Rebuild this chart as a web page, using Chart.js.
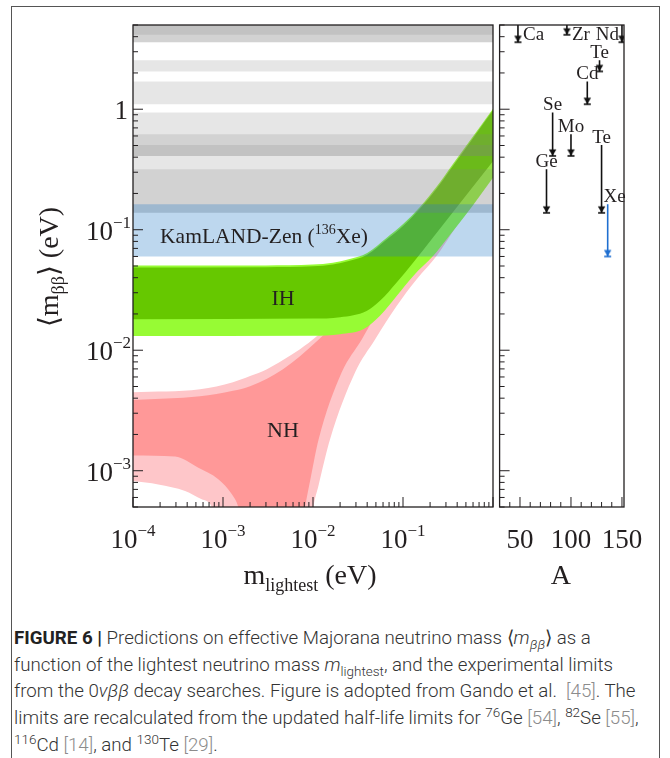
<!DOCTYPE html>
<html>
<head>
<meta charset="utf-8">
<script src="https://cdn.jsdelivr.net/npm/chart.js@4.4.1/dist/chart.umd.min.js"></script>
<style>
  html, body { margin: 0; padding: 0; background: #fff; }
  body { width: 670px; height: 758px; position: relative; overflow: hidden; }
  #frame { position: absolute; left: 11px; top: 6px; width: 649px; height: 800px; border: 1.5px solid #555; box-sizing: border-box; }
  #left { position: absolute; left: 0; top: 0; }
  #right { position: absolute; left: 493px; top: 0; }
  #caption { position: absolute; left: 14px; top: 625px; font-family: Roboto, "Liberation Sans", sans-serif; font-weight: 300;
             font-size: 18.7px; line-height: 26.7px; color: #333; white-space: nowrap; }
  #caption b { font-weight: 700; color: #222; }
  #caption .ref { color: #8c8c8c; }
  #caption sup, #caption sub { font-size: 72%; line-height: 0; }
</style>
</head>
<body>
<div id="frame"></div>
<canvas id="left" width="500" height="600"></canvas>
<canvas id="right" width="170" height="600"></canvas>
<div id="caption">
  <b>FIGURE 6 |</b> Predictions on effective Majorana neutrino mass ⟨<i>m</i><sub><i>ββ</i></sub>⟩ as a<br>
  function of the lightest neutrino mass <i>m</i><sub>lightest</sub>, and the experimental limits<br>
  from the 0<i>νββ</i> decay searches. Figure is adopted from Gando et al. &nbsp;<span class="ref">[45]</span>. The<br>
  limits are recalculated from the updated half-life limits for <sup>76</sup>Ge <span class="ref">[54]</span>, <sup>82</sup>Se <span class="ref">[55]</span>,<br>
  <sup>116</sup>Cd <span class="ref">[14]</span>, and <sup>130</sup>Te <span class="ref">[29]</span>.
</div>
<script>
const SERIF = '"Liberation Serif", "DejaVu Serif", serif';
const INK = '#231f20';

// axis ranges
const M_MIN = 1e-4, M_MAX = 1;        // m_lightest (eV)
const MBB_MIN = 5e-4, MBB_MAX = 5;    // <m_bb> (eV)
const A_MIN = 30, A_MAX = 152;        // mass number

// experimental limits on <m_bb> (eV), one entry per isotope
const isotopes   = ['Ca', 'Ge', 'Se', 'Zr', 'Mo', 'Cd', 'Te', 'Te', 'Xe', 'Nd'];
const massNumber = [48, 76, 82, 96, 100, 116, 128, 130, 136, 150];
const limitHigh  = [10, 0.318, 0.94, 10, 0.62, 1.70, 2.55, 0.506, 0.163, 10];
const limitLow   = [3.6, 0.138, 0.41, 4.15, 0.41, 1.10, 2.06, 0.138, 0.060, 3.6];
const kamlandIsotope = 8;

// inverted hierarchy band
const ihUpperM     = [1e-4, 0.003, 0.01, 0.0166, 0.025, 0.04, 0.066, 0.101, 0.155, 0.237, 0.362, 0.555, 1];
const ihDarkUpper  = [0.0487, 0.0489, 0.0497, 0.0515, 0.055, 0.062, 0.083, 0.108, 0.150, 0.220, 0.342, 0.53, 0.98];
const ihLightUpper = [0.0504, 0.0506, 0.0514, 0.0533, 0.0569, 0.0642, 0.0859, 0.112, 0.155, 0.228, 0.354, 0.549, 1.01];
const ihDarkLowM   = [1e-4, 0.01, 0.02, 0.0394, 0.0555, 0.085, 0.13, 0.208, 0.4, 1];
const ihDarkLower  = [0.0181, 0.0183, 0.0188, 0.0212, 0.0257, 0.0365, 0.0534, 0.0834, 0.155, 0.37];
const ihLightLowM  = [1e-4, 0.01, 0.02, 0.0362, 0.0555, 0.085, 0.13, 0.217, 0.305, 0.6, 1];
const ihLightLower = [0.0131, 0.0132, 0.0136, 0.0149, 0.0193, 0.0282, 0.0414, 0.0607, 0.0834, 0.16, 0.27];

// normal hierarchy band
const nhUpperM     = [1e-4, 5.55e-4, 0.00129, 0.002, 0.00308, 0.00464, 0.00717, 0.0111, 0.02, 0.04, 0.1, 0.3, 1];
const nhDarkUpper  = [0.00387, 0.00415, 0.0046, 0.00503, 0.0058, 0.00696, 0.0089, 0.0119, 0.0185, 0.04, 0.095, 0.26, 0.95];
const nhLightUpper = [0.00448, 0.00474, 0.00542, 0.0061, 0.00696, 0.0083, 0.0102, 0.0131, 0.02, 0.041, 0.097, 0.265, 0.96];
const nhDarkLowM   = [1e-4, 2.93e-4, 5.32e-4, 8.87e-4, 1.25e-3, 1.48e-3, 1.8e-3, 7e-3, 8.15e-3, 9.5e-3, 0.0115, 0.0208, 0.0348, 0.05, 0.085, 0.14, 0.24, 0.5, 1];
const nhDarkLower  = [0.00134, 0.00131, 0.00106, 8.5e-4, 6.4e-4, 5e-4, 2.5e-4, 2.5e-4, 5e-4, 9e-4, 0.0018, 0.00653, 0.0123, 0.0195, 0.031, 0.05, 0.085, 0.18, 0.36];
const nhLightLowM  = [1e-4, 1.91e-4, 3.79e-4, 5.8e-4, 7.5e-4, 9e-4, 9e-3, 0.0101, 0.0115, 0.0155, 0.0293, 0.0489, 0.085, 0.142, 0.237, 0.5, 1];
const nhLightLower = [8.2e-4, 7.7e-4, 6.8e-4, 5.8e-4, 5e-4, 2.5e-4, 2.5e-4, 5e-4, 7.5e-4, 0.00183, 0.00653, 0.0123, 0.0233, 0.0388, 0.0607, 0.14, 0.275];

function curve(ms, vs, order, fill, color) {
    return {
        data: ms.map((m, i) => ({ x: m, y: vs[i] })),
        showLine: true,
        borderWidth: 0,
        borderColor: 'transparent',
        pointRadius: 0,
        cubicInterpolationMode: 'monotone',
        order: order,
        fill: fill,
        backgroundColor: color
    };
}

function drawParts(ctx, parts, x, y, align) {
    let w = 0;
    parts.forEach(p => { ctx.font = p.font; p.w = ctx.measureText(p.text).width; w += p.w; });
    let cx = align === 'center' ? x - w / 2 : (align === 'right' ? x - w : x);
    ctx.textAlign = 'left';
    ctx.textBaseline = 'alphabetic';
    parts.forEach(p => { ctx.font = p.font; ctx.fillText(p.text, cx, y + (p.dy || 0)); cx += p.w; });
}

function powerLabel(e) {
    return [
        { text: '10', font: `27px ${SERIF}` },
        { text: '\u2212' + Math.abs(e), font: `17px ${SERIF}`, dy: -12 }
    ];
}

function drawLogTicksY(ctx, ys, xEdge, dir) {
    for (let e = -4; e <= 0; e++) {
        for (let k = 1; k <= 9; k++) {
            const v = k * Math.pow(10, e);
            if (v < MBB_MIN || v > MBB_MAX) continue;
            const py = ys.getPixelForValue(v);
            const len = k === 1 ? 10 : 5;
            ctx.beginPath();
            ctx.moveTo(xEdge, py);
            ctx.lineTo(xEdge + dir * len, py);
            ctx.stroke();
        }
    }
}

const leftDecor = {
    id: 'leftDecor',
    afterDraw(chart) {
        const ctx = chart.ctx, area = chart.chartArea;
        const xs = chart.scales.x, ys = chart.scales.y;
        ctx.save();
        ctx.strokeStyle = INK;
        ctx.fillStyle = INK;
        ctx.lineWidth = 1.3;
        ctx.strokeRect(area.left, area.top, area.right - area.left, area.bottom - area.top);

        ctx.lineWidth = 1;
        drawLogTicksY(ctx, ys, area.left, 1);
        for (let e = -4; e <= 0; e++) {
            for (let k = 1; k <= 9; k++) {
                const v = k * Math.pow(10, e);
                if (v < M_MIN || v > M_MAX) continue;
                const px = xs.getPixelForValue(v);
                const len = k === 1 ? 10 : 5;
                ctx.beginPath();
                ctx.moveTo(px, area.bottom);
                ctx.lineTo(px, area.bottom - len);
                ctx.stroke();
            }
        }

        [-4, -3, -2, -1].forEach(e => {
            drawParts(ctx, powerLabel(e), xs.getPixelForValue(Math.pow(10, e)), area.bottom + 41, 'center');
        });
        [-3, -2, -1].forEach(e => {
            drawParts(ctx, powerLabel(e), area.left - 2, ys.getPixelForValue(Math.pow(10, e)) + 10, 'right');
        });
        drawParts(ctx, [{ text: '1', font: `27px ${SERIF}` }], area.left - 5, ys.getPixelForValue(1) + 10, 'right');

        // axis titles
        drawParts(ctx, [
            { text: 'm', font: `28px ${SERIF}` },
            { text: 'lightest', font: `18px ${SERIF}`, dy: 7 },
            { text: ' (eV)', font: `28px ${SERIF}` }
        ], (area.left + area.right) / 2 - 3, area.bottom + 77, 'center');

        ctx.save();
        ctx.translate(58, (area.top + area.bottom) / 2 + 1);
        ctx.rotate(-Math.PI / 2);
        drawParts(ctx, [
            { text: '\u27E8m', font: `28px ${SERIF}` },
            { text: '\u03B2\u03B2', font: `18px ${SERIF}`, dy: 6 },
            { text: '\u27E9 (eV)', font: `28px ${SERIF}` }
        ], 0, 0, 'center');
        ctx.restore();

        // region labels
        drawParts(ctx, [
            { text: 'KamLAND-Zen (', font: `21.5px ${SERIF}` },
            { text: '136', font: `14px ${SERIF}`, dy: -9 },
            { text: 'Xe)', font: `21.5px ${SERIF}` }
        ], xs.getPixelForValue(2.0e-4), ys.getPixelForValue(0.09) + 8, 'left');
        drawParts(ctx, [{ text: 'IH', font: `22px ${SERIF}` }],
            xs.getPixelForValue(0.00464), ys.getPixelForValue(0.0275) + 8, 'center');
        drawParts(ctx, [{ text: 'NH', font: `22px ${SERIF}` }],
            xs.getPixelForValue(0.00464), ys.getPixelForValue(0.0022) + 8, 'center');
        ctx.restore();
    }
};

const leftDatasets = [
    curve(nhUpperM, nhLightUpper, 6, false, 'transparent'),
    curve(nhLightLowM, nhLightLower, 6, '-1', '#fec6c9'),
    curve(nhUpperM, nhDarkUpper, 5, false, 'transparent'),
    curve(nhDarkLowM, nhDarkLower, 5, '-1', '#ff9898'),
    curve(ihUpperM, ihLightUpper, 4, false, 'transparent'),
    curve(ihLightLowM, ihLightLower, 4, '-1', '#97fb34'),
    curve(ihUpperM, ihDarkUpper, 3, false, 'transparent'),
    curve(ihDarkLowM, ihDarkLower, 3, '-1', '#66c800')
];
isotopes.forEach((name, i) => {
    const isKL = i === kamlandIsotope;
    leftDatasets.push({
        data: [{ x: M_MIN, y: limitHigh[i] }, { x: M_MAX, y: limitHigh[i] }],
        showLine: true,
        borderWidth: 0,
        borderColor: 'transparent',
        pointRadius: 0,
        order: isKL ? 1 : 2,
        fill: { value: limitLow[i] },
        backgroundColor: isKL ? 'rgba(35, 122, 198, 0.30)' : 'rgba(128, 128, 128, 0.20)'
    });
});

new Chart(document.getElementById('left'), {
    type: 'scatter',
    data: { datasets: leftDatasets },
    options: {
        responsive: false,
        animation: false,
        devicePixelRatio: 1,
        events: [],
        layout: { padding: { left: 133, top: 25, right: 7, bottom: 93 } },
        scales: {
            x: { type: 'logarithmic', min: M_MIN, max: M_MAX, display: false },
            y: { type: 'logarithmic', min: MBB_MIN, max: MBB_MAX, display: false }
        },
        plugins: { legend: { display: false }, tooltip: { enabled: false } }
    },
    plugins: [leftDecor]
});

// right panel: limits per mass number
function arrowHead(color) {
    const c = document.createElement('canvas');
    c.width = 11;
    c.height = 22;
    const g = c.getContext('2d');
    g.fillStyle = color;
    g.strokeStyle = color;
    g.lineWidth = 1.6;
    g.beginPath();
    g.moveTo(1.8, 4.5);
    g.lineTo(9.2, 4.5);
    g.lineTo(5.5, 11);
    g.closePath();
    g.fill();
    g.beginPath();
    g.moveTo(2, 11);
    g.lineTo(9, 11);
    g.stroke();
    return c;
}
const headBlack = arrowHead('#111');
const headBlue = arrowHead('#1f6fd0');

const rightDatasets = isotopes.map((name, i) => {
    const isKL = i === kamlandIsotope;
    return {
        data: [{ x: massNumber[i], y: limitHigh[i] }, { x: massNumber[i], y: limitLow[i] }],
        showLine: true,
        borderColor: isKL ? '#1f6fd0' : '#111',
        borderWidth: 1.6,
        pointRadius: [0, 5],
        pointStyle: isKL ? headBlue : headBlack
    };
});

const rightDecor = {
    id: 'rightDecor',
    afterDraw(chart) {
        const ctx = chart.ctx, area = chart.chartArea;
        const xs = chart.scales.x, ys = chart.scales.y;
        ctx.save();
        ctx.strokeStyle = INK;
        ctx.fillStyle = INK;
        ctx.lineWidth = 1.3;
        ctx.strokeRect(area.left, area.top, area.right - area.left, area.bottom - area.top);
        ctx.lineWidth = 1;
        drawLogTicksY(ctx, ys, area.left, 1);
        for (let a = 40; a <= 150; a += 10) {
            const px = xs.getPixelForValue(a);
            const len = a % 50 === 0 ? 10 : 5;
            ctx.beginPath();
            ctx.moveTo(px, area.bottom);
            ctx.lineTo(px, area.bottom - len);
            ctx.stroke();
        }
        [50, 100, 150].forEach(a => {
            drawParts(ctx, [{ text: String(a), font: `27px ${SERIF}` }], xs.getPixelForValue(a), area.bottom + 41, 'center');
        });
        drawParts(ctx, [{ text: 'A', font: `28px ${SERIF}` }], xs.getPixelForValue(90), area.bottom + 77, 'center');

        const side = { Ca: 'right', Zr: 'right', Nd: 'left' };
        isotopes.forEach((name, i) => {
            const px = xs.getPixelForValue(massNumber[i]);
            const font = [{ text: name, font: `19px ${SERIF}` }];
            ctx.fillStyle = INK;
            if (side[name] === 'right') {
                drawParts(ctx, font, px + 5, area.top + 15, 'left');
            } else if (side[name] === 'left') {
                drawParts(ctx, font, px - 3, area.top + 15, 'right');
            } else {
                const dx = i === kamlandIsotope ? 7 : 0;
                drawParts(ctx, font, px + dx, ys.getPixelForValue(limitHigh[i]) - 2, 'center');
            }
        });
        ctx.restore();
    }
};

new Chart(document.getElementById('right'), {
    type: 'scatter',
    data: { datasets: rightDatasets },
    options: {
        responsive: false,
        animation: false,
        devicePixelRatio: 1,
        events: [],
        layout: { padding: { left: 0, top: 25, right: 39, bottom: 93 } },
        scales: {
            x: { type: 'linear', min: A_MIN, max: A_MAX, display: false },
            y: { type: 'logarithmic', min: MBB_MIN, max: MBB_MAX, display: false }
        },
        plugins: { legend: { display: false }, tooltip: { enabled: false } }
    },
    plugins: [rightDecor]
});
</script>
</body>
</html>
